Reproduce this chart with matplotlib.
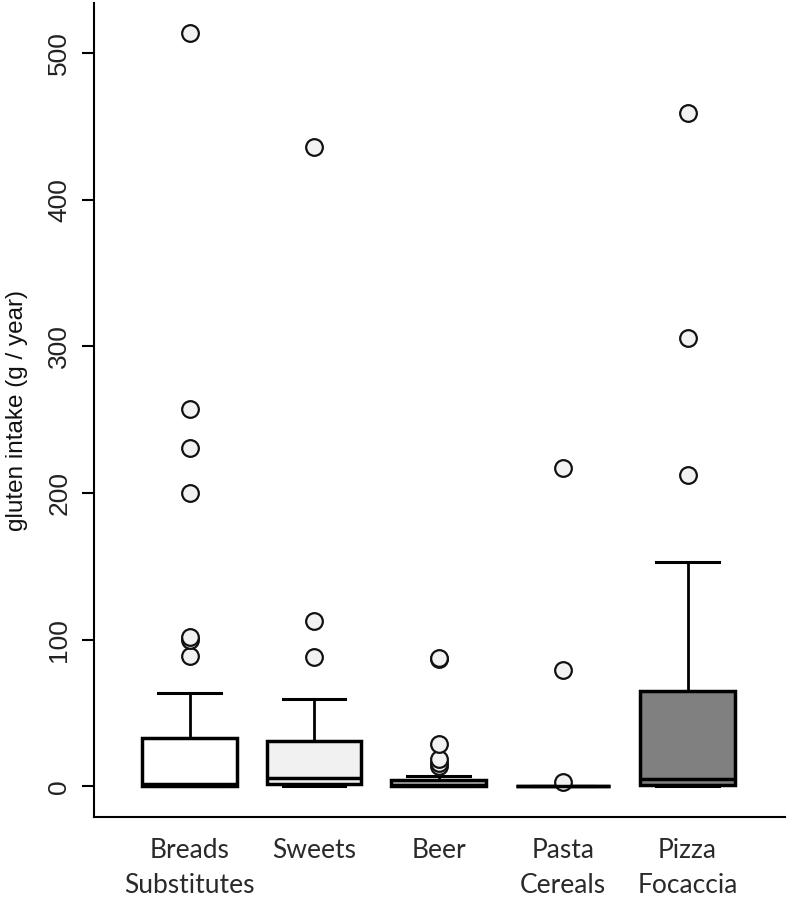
import matplotlib
matplotlib.use("Agg")
import matplotlib.pyplot as plt

# Box statistics (g / year)
categories = ["Breads\nSubstitutes", "Sweets", "Beer", "Pasta\nCereals", "Pizza\nFocaccia"]
whisker_low = [0, 0, 0, 0, 0]
lower_quartile = [0, 1.8, 0, 0, 0.5]
medians = [1.5, 5.7, 1.0, 0, 5.0]
upper_quartile = [33, 31, 4, 0, 65]
whisker_high = [63.5, 59.5, 7, 0, 153]
outliers = [
    [89, 100, 102, 200, 231, 257, 514],
    [88, 113, 436],
    [14, 16, 18.5, 29, 86.5, 87.5],
    [3, 79, 217],
    [212, 306, 459],
]
box_fills = ["white", "#f1f1f1", "#b8b8b8", "white", "#808080"]
y_ticks = [0, 100, 200, 300, 400, 500]

stats = []
for i in range(len(categories)):
    stats.append({
        "whislo": whisker_low[i],
        "q1": lower_quartile[i],
        "med": medians[i],
        "q3": upper_quartile[i],
        "whishi": whisker_high[i],
        "fliers": outliers[i],
    })

fig = plt.figure(figsize=(7.87, 8.99), dpi=100)
ax = fig.add_axes([0.119, 0.0912, 0.878, 0.905])

positions = list(range(1, len(categories) + 1))
parts = ax.bxp(
    stats,
    positions=positions,
    widths=0.76,
    capwidths=0.5,
    patch_artist=True,
    boxprops=dict(edgecolor="black", linewidth=2.5),
    whiskerprops=dict(color="black", linewidth=2.0),
    capprops=dict(color="black", linewidth=2.2),
    medianprops=dict(color="black", linewidth=2.5),
    flierprops=dict(marker="o", markersize=12, markerfacecolor="#f2f2f2",
                    markeredgecolor="#111111", markeredgewidth=1.6, linestyle="none"),
)
for patch, fill in zip(parts["boxes"], box_fills):
    patch.set_facecolor(fill)

ax.set_xlim(0.23, 5.78)
ax.set_ylim(-21, 534)

ax.spines["top"].set_visible(False)
ax.spines["right"].set_visible(False)
ax.spines["left"].set_linewidth(1.5)
ax.spines["bottom"].set_linewidth(1.5)

ax.set_yticks(y_ticks)
ax.set_yticklabels([str(t) for t in y_ticks], rotation=90, va="center",
                   fontsize=19, family="Liberation Sans", color="#222222")
ax.tick_params(axis="y", length=9, width=1.5, pad=7)

ax.set_xticks(positions)
ax.set_xticklabels(categories, fontsize=19, family="Lato", color="#2a2a2a",
                   linespacing=1.5)
ax.tick_params(axis="x", length=0, pad=15)

ax.set_ylabel("gluten intake (g / year)", fontsize=17.5, family="Liberation Sans",
              color="#111111", labelpad=14)

fig.savefig("out.png", dpi=100)
